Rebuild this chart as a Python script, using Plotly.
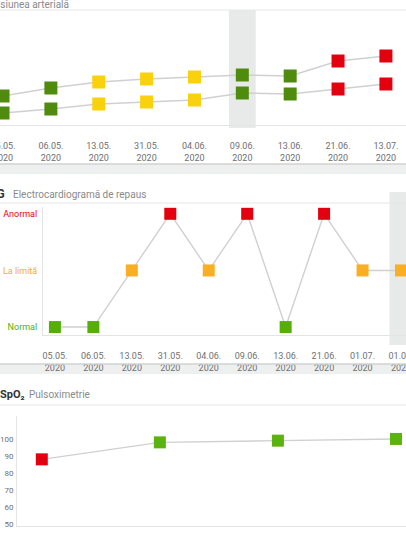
import plotly.graph_objects as go

# ---------------- data ----------------
bp_dates = ["05.05.", "06.05.", "13.05.", "31.05.", "04.06.", "09.06.", "13.06.", "21.06.", "13.07."]
bp_systolic = [120, 128, 134, 137, 139, 141, 140, 155, 160]
bp_diastolic = [103, 107, 112, 114, 116, 123, 122, 127, 132]
bp_status = ["ok", "ok", "warn", "warn", "warn", "ok", "ok", "bad", "bad"]
bp_highlight = "09.06."

ecg_dates = ["05.05.", "06.05.", "13.05.", "31.05.", "04.06.", "09.06.", "13.06.", "21.06.", "01.07.", "01.07. "]
ecg_levels = ["Normal", "La limită", "Anormal"]
ecg_values = ["Normal", "Normal", "La limită", "Anormal", "La limită", "Anormal",
              "Normal", "Anormal", "La limită", "La limită"]

spo2_dates = ["21.06.", "01.07.", "10.07.", "13.07."]
spo2_values = [88, 98, 99, 100]
spo2_status = ["bad", "ok", "ok", "ok"]
spo2_ticks = [50, 60, 70, 80, 90, 100]

year = "2020"

# ---------------- styles ----------------
W, H = 406, 534
FONT = "Roboto, 'Open Sans', sans-serif"
BP_COL = {"ok": "#4f8b0c", "warn": "#f9d10c", "bad": "#e3000f"}
ECG_COL = {"Normal": "#55ae0a", "La limită": "#f9ae24", "Anormal": "#e3000f"}
SPO2_COL = {"ok": "#5cb20e", "bad": "#e3000f"}
LINE = "#d0d0d0"
TICK = "#6f6f6f"
BAND = "#e7eae9"


def px(p):
    return p / W


def py(p):
    return 1 - p / H


def labels(ds):
    return [d.strip() + "<br>" + year for d in ds]


fig = go.Figure()

# panel 1 : blood pressure
for vals in (bp_systolic, bp_diastolic):
    fig.add_trace(go.Scatter(
        x=bp_dates, y=vals, mode="lines+markers", xaxis="x", yaxis="y",
        line=dict(color=LINE, width=1.6),
        marker=dict(symbol="square", size=13, color=[BP_COL[s] for s in bp_status]),
        showlegend=False, hoverinfo="skip", cliponaxis=False))

# panel 2 : ECG
fig.add_trace(go.Scatter(
    x=ecg_dates, y=ecg_values, mode="lines+markers", xaxis="x2", yaxis="y2",
    line=dict(color=LINE, width=1.4),
    marker=dict(symbol="square", size=12, color=[ECG_COL[v] for v in ecg_values]),
    showlegend=False, hoverinfo="skip", cliponaxis=False))

# panel 3 : SpO2
fig.add_trace(go.Scatter(
    x=spo2_dates, y=spo2_values, mode="lines+markers", xaxis="x3", yaxis="y3",
    line=dict(color=LINE, width=1.4),
    marker=dict(symbol="square", size=12, color=[SPO2_COL[s] for s in spo2_status]),
    showlegend=False, hoverinfo="skip", cliponaxis=False))

xcommon = dict(type="category", showgrid=False, zeroline=False, showline=True, automargin=False,
               linecolor="#e4e4e4", linewidth=1, ticks="outside", ticklen=12,
               tickcolor="rgba(0,0,0,0)", tickfont=dict(size=9, color=TICK, family=FONT))

fig.update_layout(
    width=W, height=H, margin=dict(l=0, r=0, t=0, b=0, autoexpand=False),
    paper_bgcolor="white", plot_bgcolor="rgba(0,0,0,0)",
    font=dict(family=FONT),
    xaxis=dict(domain=[0, 1], range=[-0.063, 8.42], tickvals=bp_dates,
               ticktext=labels(bp_dates), tickmode="array", anchor="y", **xcommon),
    yaxis=dict(domain=[py(125), py(12)], range=[91, 204], visible=False, anchor="x",
               automargin=False),
    xaxis2=dict(domain=[px(43), 1], range=[-0.31, 9.13], tickvals=ecg_dates,
                ticktext=labels(ecg_dates), tickmode="array", anchor="y2", **xcommon),
    yaxis2=dict(domain=[py(335), py(207)], range=[-0.14, 2.12], type="category",
                categoryarray=ecg_levels, categoryorder="array", tickmode="array",
                tickvals=ecg_levels, automargin=False,
                ticktext=['<span style="color:%s">%s</span>' % (ECG_COL[l], l) for l in ecg_levels],
                showgrid=False, zeroline=False, showline=True, linecolor="#e4e4e4",
                tickfont=dict(size=9, family=FONT), ticks="outside", ticklen=3,
                tickcolor="rgba(0,0,0,0)", anchor="x2"),
    xaxis3=dict(domain=[px(17), 1], range=[-0.21, 3.085], tickvals=spo2_dates,
                ticktext=labels(spo2_dates), tickmode="array", anchor="y3", **xcommon),
    yaxis3=dict(domain=[py(526), py(416)], range=[48.8, 113.5], tickmode="array",
                tickvals=spo2_ticks, showgrid=False, zeroline=False, showline=True,
                linecolor="#e4e4e4", tickfont=dict(size=8, color=TICK, family=FONT),
                ticks="outside", ticklen=1, tickcolor="rgba(0,0,0,0)", anchor="x3",
                automargin=False),
)

hi = bp_dates.index(bp_highlight)
shapes = [
    # highlight bands
    dict(type="rect", xref="x", yref="paper", x0=hi - 0.28, x1=hi + 0.28,
         y0=py(128), y1=py(10), fillcolor=BAND, line=dict(width=0), layer="below"),
    dict(type="rect", xref="x2", yref="paper", x0=len(ecg_dates) - 1.3, x1=len(ecg_dates) - 0.3,
         y0=py(345), y1=py(192), fillcolor=BAND, line=dict(width=0), layer="below"),
    # header separators
    dict(type="line", xref="paper", yref="paper", x0=0, x1=1, y0=py(10), y1=py(10),
         line=dict(color="#e6e6e6", width=1)),
    dict(type="line", xref="paper", yref="paper", x0=0, x1=1, y0=py(203), y1=py(203),
         line=dict(color="#e6e6e6", width=1)),
    dict(type="line", xref="paper", yref="paper", x0=0, x1=1, y0=py(405), y1=py(405),
         line=dict(color="#e6e6e6", width=1)),
    # card gaps
    dict(type="rect", xref="paper", yref="paper", x0=0, x1=1, y0=py(174), y1=py(164),
         fillcolor="#eef0ef", line=dict(width=0), layer="below"),
    dict(type="line", xref="paper", yref="paper", x0=0, x1=1, y0=py(164), y1=py(164),
         line=dict(color="#cfd3d2", width=1.5)),
    dict(type="rect", xref="paper", yref="paper", x0=0, x1=1, y0=py(374), y1=py(364),
         fillcolor="#eef0ef", line=dict(width=0), layer="below"),
    dict(type="line", xref="paper", yref="paper", x0=0, x1=1, y0=py(364), y1=py(364),
         line=dict(color="#cfd3d2", width=1.5)),
]
fig.update_layout(shapes=shapes)

ann = [
    dict(text="Tensiunea arterială", x=px(71), y=py(4), xanchor="right", yanchor="middle",
         font=dict(size=10, color="#8a8a8a", family=FONT)),
    dict(text="<b>ECG</b>", x=px(7), y=py(194), xanchor="right", yanchor="middle",
         font=dict(size=12, color="#333333", family=FONT)),
    dict(text="Electrocardiogramă de repaus", x=px(11), y=py(194), xanchor="left", yanchor="middle",
         font=dict(size=10, color="#8a8a8a", family=FONT)),
    dict(text="<b>SpO₂</b>", x=px(-2), y=py(394), xanchor="left", yanchor="middle",
         font=dict(size=11, color="#333333", family=FONT)),
    dict(text="Pulsoximetrie", x=px(27), y=py(394), xanchor="left", yanchor="middle",
         font=dict(size=10, color="#8a8a8a", family=FONT)),
]
for a in ann:
    a.update(xref="paper", yref="paper", showarrow=False)
fig.update_layout(annotations=ann)

fig.write_html("out.html", config={"displayModeBar": False},
               post_script="document.body.style.margin='0';document.body.style.overflow='hidden';")
